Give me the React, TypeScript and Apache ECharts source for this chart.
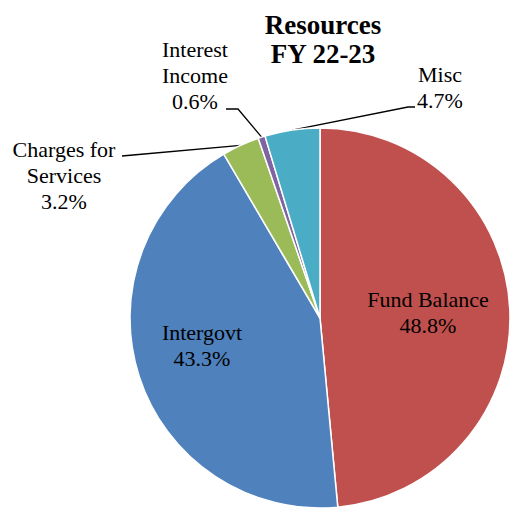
import React, { useEffect, useRef } from "react";
import * as echarts from "echarts";

const titleLines = ["Resources", "FY 22-23"];
const categories = ["Fund Balance", "Intergovt", "Charges for\nServices", "Interest\nIncome", "Misc"];
const values = [48.8, 43.3, 3.2, 0.6, 4.7];
const colors = ["#C0504D", "#4F81BD", "#9BBB59", "#8064A2", "#4BACC6"];
// label anchor (center) positions and leader line bends, by slice index
const labelPos: (number[] | null)[] = [[428, 312], [202, 345], [64, 175], [195, 75], [440, 87]];
const lineBends: (number[][] | null)[] = [null, null, [[133, 155], [122, 156]], [[238, 109], [226, 109]], [[408, 107], [415, 107]]];

const FONT = "Liberation Serif";

export default function App() {
  const ref = useRef<HTMLDivElement>(null);
  useEffect(() => {
    if (!ref.current) return;
    const chart = echarts.init(ref.current, undefined, { renderer: "svg" });
    const data = categories.map((name, i) => {
      const inside = i < 2;
      return {
        name,
        value: values[i],
        itemStyle: { color: colors[i] },
        label: { position: inside ? "inside" : "outside" },
        labelLine: { show: !inside },
      };
    });
    chart.setOption({
      animation: false,
      backgroundColor: "#fff",
      textStyle: { fontFamily: FONT },
      title: {
        text: titleLines.join("\n"),
        left: 318,
        top: 5,
        textAlign: "center",
        textStyle: { fontFamily: FONT, fontSize: 27, fontWeight: "bold", color: "#000", lineHeight: 29 },
      },
      series: [
        {
          type: "pie",
          center: [320, 318],
          radius: 190,
          startAngle: 90,
          clockwise: true,
          avoidLabelOverlap: false,
          itemStyle: { borderColor: "#fff", borderWidth: 1.5 },
          label: {
            fontFamily: FONT,
            fontSize: 22,
            lineHeight: 26,
            color: "#000",
            align: "center",
            formatter: (p: any) => `${p.name}\n${values[p.dataIndex].toFixed(1)}%`,
          },
          labelLine: { lineStyle: { color: "#000", width: 1.3 }, length: 10, length2: 10 },
          labelLayout: (params: any) => {
            const i = params.dataIndex;
            const pos = labelPos[i];
            const res: any = { x: pos![0], y: pos![1], align: "center", verticalAlign: "middle" };
            const bends = lineBends[i];
            if (bends && params.labelLinePoints) {
              res.labelLinePoints = [params.labelLinePoints[0], ...bends];
            }
            return res;
          },
          data,
        },
      ],
    });
    return () => chart.dispose();
  }, []);
  return <div ref={ref} style={{ position: "fixed", left: 0, top: 0, width: 510, height: 508 }} />;
}
